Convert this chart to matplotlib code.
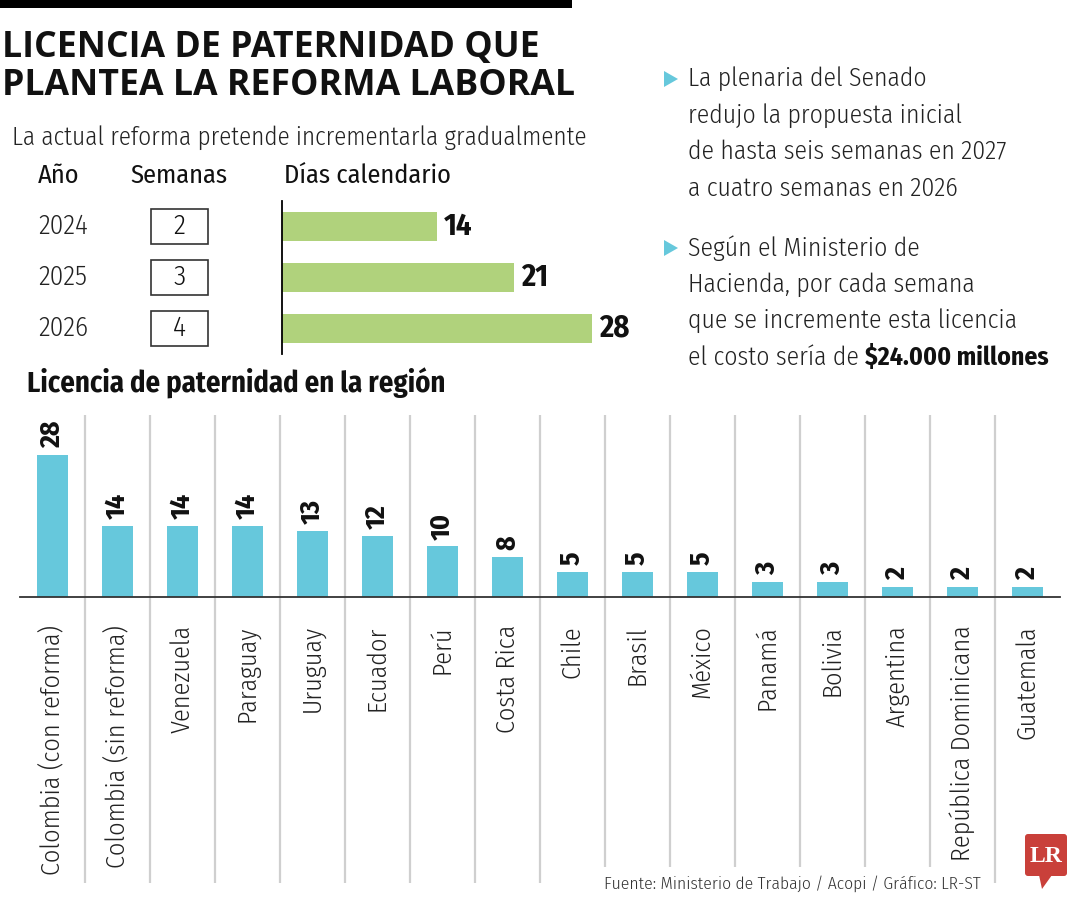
import matplotlib
matplotlib.use("Agg")
import matplotlib.pyplot as plt
import matplotlib.transforms as mtransforms
from matplotlib.patches import Rectangle, Polygon, FancyBboxPatch
import numpy as np

# datos
years = ["2024", "2025", "2026"]
weeks = [2, 3, 4]
days = [14, 21, 28]

countries = ["Colombia (con reforma)", "Colombia (sin reforma)", "Venezuela", "Paraguay",
             "Uruguay", "Ecuador", "Perú", "Costa Rica", "Chile", "Brasil", "México",
             "Panamá", "Bolivia", "Argentina", "República Dominicana", "Guatemala"]
region_days = [28, 14, 14, 14, 13, 12, 10, 8, 5, 5, 5, 3, 3, 2, 2, 2]

title_lines = ["LICENCIA DE PATERNIDAD QUE", "PLANTEA LA REFORMA LABORAL"]
subtitle = "La actual reforma pretende incrementarla gradualmente"
note1 = ["La plenaria del Senado", "redujo la propuesta inicial",
         "de hasta seis semanas en 2027", "a cuatro semanas en 2026"]
note2 = ["Según el Ministerio de", "Hacienda, por cada semana",
         "que se incremente esta licencia", "el costo sería de "]
note2_bold = "$24.000 millones"
source = "Fuente: Ministerio de Trabajo / Acopi / Gráfico: LR-ST"

GREEN = "#b0d27c"
CYAN = "#66c8dc"
GREY = "#cfcfcf"
RED = "#c9403a"

NARROW = ["Fira Sans Condensed", "Asap Condensed", "DejaVu Sans"]
TITLEF = ["Open Sans", "DejaVu Sans"]
plt.rcParams["font.family"] = NARROW

W, H = 1080, 900
fig = plt.figure(figsize=(10.8, 9), dpi=100)


def box(x0, y0, x1, y1):
    # pixel rect (top-left origin) -> figure fraction
    return [x0 / W, 1 - y1 / H, (x1 - x0) / W, (y1 - y0) / H]


bg = fig.add_axes([0, 0, 1, 1])
bg.set_xlim(0, W)
bg.set_ylim(H, 0)
bg.axis("off")

# cabecera
bg.add_patch(Rectangle((0, 0), 572, 8, color="black", lw=0))
for k, line in enumerate(title_lines):
    bg.text(2, 48 + k * 38, line, fontsize=25.7, fontweight="bold", family=TITLEF,
            va="center", ha="left", color="#111111")
bg.text(12, 138, subtitle, fontsize=18.1, fontweight=300, va="center", ha="left",
        color="#222222")
bg.text(38, 176, "Año", fontsize=19, va="center", ha="left", color="#111111")
bg.text(130, 176, "Semanas", fontsize=19, va="center", ha="left", color="#111111")
bg.text(284, 176, "Días calendario", fontsize=19, va="center", ha="left", color="#111111")

# barras superiores
ax_top = fig.add_axes(box(282, 201, 282 + 11.07 * 32, 354))
ypos = np.arange(len(years))
ax_top.barh(ypos, days, height=0.55, color=GREEN)
ax_top.set_xlim(0, 32)
ax_top.set_ylim(2.5, -0.5)
for s in ["top", "right", "bottom"]:
    ax_top.spines[s].set_visible(False)
ax_top.spines["left"].set_linewidth(1.3)
ax_top.set_xticks([])
ax_top.set_yticks([])
ax_top.patch.set_alpha(0)
for y, d in zip(ypos, days):
    ax_top.annotate(str(d), (d, y), xytext=(5, 0), textcoords="offset points",
                    va="center", ha="left", fontsize=22, fontweight="bold", color="#111111")

rows = mtransforms.blended_transform_factory(bg.transData, ax_top.transData)
for y, yr, wk in zip(ypos, years, weeks):
    bg.text(38, y, yr, transform=rows, fontsize=19.5, fontweight=300, va="center", ha="left",
            color="#222222")
    bg.add_patch(Rectangle((151, y - 0.35), 57, 0.7, transform=rows, fill=False,
                           ec="#333333", lw=1.2))
    bg.text(179.5, y, str(wk), transform=rows, fontsize=20, fontweight=300, va="center",
            ha="center", color="#111111")


# notas de la derecha
def bullet(y0, lines, bold_tail=None):
    bg.add_patch(Polygon([(664, y0 - 8), (664, y0 + 8), (678, y0)], color=CYAN, lw=0))
    for k, line in enumerate(lines):
        t = bg.text(688, y0 + k * 36.5, line, fontsize=18.5, fontweight=300, va="center",
                    ha="left", color="#222222")
    if bold_tail:
        fig.canvas.draw()
        bb = t.get_window_extent()
        bg.text(bb.x1, y0 + (len(lines) - 1) * 36.5, bold_tail, fontsize=18.5,
                fontweight="bold", va="center", ha="left", color="#111111")


bullet(79, note1)
bullet(248, note2, note2_bold)

# gráfico regional
bg.text(27, 383, "Licencia de paternidad en la región", fontsize=20.6, fontweight="bold",
        va="center", ha="left", color="#111111")

ax = fig.add_axes(box(20, 415, 1060, 597))
x = np.arange(len(countries))
ax.bar(x, region_days, width=0.48, color=CYAN, zorder=3)
ax.set_xlim(-0.5, len(countries) - 0.5)
ax.set_ylim(0, 36)
for s in ["top", "right", "left"]:
    ax.spines[s].set_visible(False)
ax.spines["bottom"].set_color("#333333")
ax.spines["bottom"].set_linewidth(1.3)
ax.spines["bottom"].set_zorder(4)
ax.set_xticks([])
ax.set_yticks([])
ax.patch.set_alpha(0)

sep = x[:-1] + 0.5
ymin = np.where((sep > 8) & (sep < 14), -53.5, -56.5)
ax.vlines(sep, ymin, 36, colors=GREY, lw=1.6, clip_on=False, zorder=1)

for xi, v, name in zip(x, region_days, countries):
    ax.annotate(str(v), (xi, v), xytext=(0, 5), textcoords="offset points", rotation=90,
                ha="center", va="bottom", fontsize=20, fontweight="bold", color="#111111")
    ax.text(xi, -0.155, name, transform=ax.get_xaxis_transform(), rotation=90,
            ha="center", va="top", fontsize=18.8, fontweight=300, color="#222222")

# fuente y logo
bg.text(604, 884, source, fontsize=12.6, fontweight=300, va="center", ha="left",
        color="#333333")
bg.add_patch(FancyBboxPatch((1025, 834), 42, 42, boxstyle="round,pad=0,rounding_size=3",
                            color=RED, lw=0))
bg.add_patch(Polygon([(1039, 875), (1052, 875), (1042, 889)], color=RED, lw=0))
bg.text(1046, 856, "LR", fontsize=17, fontweight="bold",
        family=["Liberation Serif", "DejaVu Serif"], color="white", ha="center", va="center")

fig.savefig("out.png", dpi=100)
